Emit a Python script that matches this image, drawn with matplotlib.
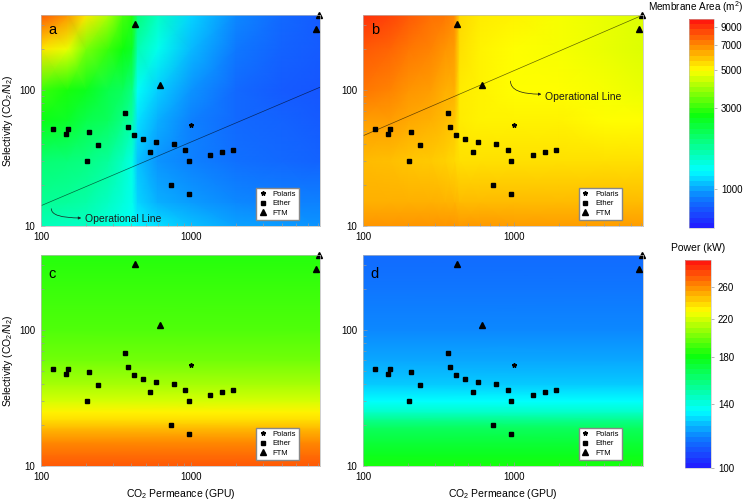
import numpy as np
import matplotlib.pyplot as plt
import matplotlib.cm as cm
from matplotlib.colors import LinearSegmentedColormap, LogNorm
from matplotlib.ticker import NullFormatter

plt.rcParams['font.family'] = ['Liberation Sans', 'DejaVu Sans']
plt.rcParams['mathtext.fontset'] = 'custom'
plt.rcParams['mathtext.rm'] = 'Liberation Sans'
plt.rcParams['mathtext.it'] = 'Liberation Sans:italic'

# membrane data points (CO2 permeance in GPU, CO2/N2 selectivity)
ether_perm = [120, 147, 151, 209, 239, 201, 365, 380, 415, 476, 581, 535,
              762, 912, 960, 728, 960, 1339, 1601, 1896]
ether_sel = [52, 47.5, 52, 49, 39.4, 30.2, 67.8, 53.5, 46.4, 43.4, 41.2, 34.8,
             40.3, 36.2, 30.2, 20.0, 17.1, 33.3, 35.2, 36.2]
polaris_perm = [1000]
polaris_sel = [55]
ftm_perm = [423, 618, 6740, 7060]
ftm_sel = [305, 108, 282, 355]

# operational lines in panels a and b
opline_perm = [100, 7200]
opline_a_sel = [14.1, 104.6]
opline_b_sel = [46, 355]

# membrane area maps (m2), rows follow grid_sel, columns follow grid_perm
grid_perm = [100, 150, 200, 280, 350, 405, 440, 600, 1000, 2000, 4000, 7200]
grid_sel = [10, 15, 30, 60, 100, 200, 355]
area_a = [
    [1590, 1540, 1540, 1420, 1340, 1300, 1230, 1160, 1070, 980, 950, 930],
    [1780, 1730, 1680, 1540, 1420, 1340, 1130, 1010, 950, 900, 880, 880],
    [1990, 1940, 1880, 1730, 1540, 1380, 1070, 930, 880, 830, 800, 780],
    [2640, 2500, 2230, 2110, 1880, 1680, 1160, 1010, 880, 800, 780, 760],
    [3040, 2800, 2570, 2230, 2110, 1880, 1300, 1100, 930, 800, 760, 740],
    [5500, 4800, 3600, 3040, 2720, 2500, 1630, 1340, 1040, 850, 780, 760],
    [8200, 6900, 5400, 4100, 3200, 2880, 1940, 1540, 1130, 900, 800, 760],
]
area_b = [
    [6900, 6900, 6900, 6900, 6900, 6900, 6830, 6830, 6730, 6730, 6730, 6730],
    [6360, 6360, 6360, 6360, 6300, 6300, 6180, 6180, 6180, 6180, 6180, 6180],
    [6180, 6100, 6000, 5900, 5800, 5680, 5520, 5520, 5520, 5520, 5520, 5520],
    [6730, 6730, 6540, 6360, 6180, 6010, 5360, 5210, 5210, 5210, 5070, 5070],
    [7530, 7320, 6920, 6730, 6360, 6360, 5360, 5210, 5070, 5070, 4930, 4790],
    [8200, 7970, 7530, 7320, 6920, 6730, 5520, 5210, 5070, 4930, 4790, 4660],
    [9340, 8820, 8200, 7750, 7530, 7120, 5680, 5360, 5210, 4930, 4790, 4660],
]

# power maps (kW), only change with selectivity
power_sel = [10, 12, 15, 19, 22, 25, 30, 40, 60, 100, 200, 355]
power_c = [278, 272, 263, 249, 238, 233, 221, 211, 200, 193, 189, 185]
power_d = [183, 177, 171, 164, 154, 144, 135, 127, 122, 118, 115, 113]

area_ticks = [1000, 3000, 5000, 7000, 9000]
power_ticks = [100, 140, 180, 220, 260]

rainbow = LinearSegmentedColormap.from_list('origin_rainbow', [
    (0.0, (0.13, 0.13, 1.0)), (0.14, (0.05, 0.5, 1.0)), (0.27, (0.0, 1.0, 1.0)),
    (0.54, (0.05, 1.0, 0.05)), (0.76, (1.0, 1.0, 0.0)), (0.88, (1.0, 0.55, 0.0)),
    (1.0, (1.0, 0.1, 0.05))])
area_norm = LogNorm(590, 10000)
power_norm = LogNorm(100, 300)

fig = plt.figure(figsize=(7.5, 5.01), dpi=100)
ax_a = fig.add_axes([0.0547, 0.5489, 0.372, 0.4212])
ax_b = fig.add_axes([0.484, 0.5489, 0.3733, 0.4212])
ax_c = fig.add_axes([0.0547, 0.0699, 0.372, 0.4212])
ax_d = fig.add_axes([0.484, 0.0699, 0.3733, 0.4212])

X, Y = np.meshgrid(grid_perm, grid_sel)
ax_a.pcolormesh(X, Y, np.array(area_a), shading='gouraud', cmap=rainbow, norm=area_norm)
ax_b.pcolormesh(X, Y, np.array(area_b), shading='gouraud', cmap=rainbow, norm=area_norm)
Xp, Yp = np.meshgrid([100, 7200], power_sel)
ax_c.pcolormesh(Xp, Yp, np.column_stack([power_c, power_c]), shading='gouraud',
                cmap=rainbow, norm=power_norm)
ax_d.pcolormesh(Xp, Yp, np.column_stack([power_d, power_d]), shading='gouraud',
                cmap=rainbow, norm=power_norm)

for ax, letter in zip([ax_a, ax_b, ax_c, ax_d], ['a', 'b', 'c', 'd']):
    ax.plot(polaris_perm, polaris_sel, '*', color='k', ms=3.3, ls='none', label='Polaris')
    ax.plot(ether_perm, ether_sel, 's', color='k', ms=3.5, ls='none', label='Ether')
    ax.plot(ftm_perm, ftm_sel, '^', color='k', ms=4.5, ls='none', label='FTM', clip_on=False)
    ax.set_xscale('log')
    ax.set_yscale('log')
    ax.set_xlim(100, 7200)
    ax.set_ylim(10, 355)
    ax.set_xticks([100, 1000])
    ax.set_xticklabels(['100', '1000'])
    ax.set_yticks([10, 100])
    ax.set_yticklabels(['10', '100'])
    ax.xaxis.set_minor_formatter(NullFormatter())
    ax.yaxis.set_minor_formatter(NullFormatter())
    ax.tick_params(which='both', direction='in', color='#999999', labelsize=7, pad=4)
    ax.tick_params(which='major', length=3, width=0.5)
    ax.tick_params(which='minor', length=2, width=0.5)
    for sp in ax.spines.values():
        sp.set_color('#bbbbbb')
        sp.set_linewidth(0.5)
    ax.text(0.028, 0.91 if letter in 'ab' else 0.89, letter, transform=ax.transAxes,
            fontsize=10.5)
    ax.legend(loc='lower right', bbox_to_anchor=(0.925, 0.03), fontsize=5.5,
              fancybox=False, edgecolor='#888888', framealpha=1, borderpad=0.4,
              handlelength=1.0, handletextpad=0.8, labelspacing=0.25, borderaxespad=0)

# operational lines
ax_a.plot(opline_perm, opline_a_sel, color='k', lw=0.5, alpha=0.6)
ax_b.plot(opline_perm, opline_b_sel, color='k', lw=0.5, alpha=0.6)
ax_a.annotate('', xy=(185, 11.45), xytext=(117, 13.4),
              arrowprops=dict(arrowstyle='-|>', color='#1a1a1a', lw=0.5, mutation_scale=4,
                              connectionstyle='angle3,angleA=90,angleB=0', shrinkA=0, shrinkB=0))
ax_a.text(196, 11.3, 'Operational Line', fontsize=7.5, va='center', color='#1a1a1a')
ax_b.annotate('', xy=(1524, 93), xytext=(951, 116),
              arrowprops=dict(arrowstyle='-|>', color='#1a1a1a', lw=0.5, mutation_scale=4,
                              connectionstyle='angle3,angleA=90,angleB=0', shrinkA=0, shrinkB=0))
ax_b.text(1622, 89.3, 'Operational Line', fontsize=7.5, va='center', color='#1a1a1a')

ax_a.set_ylabel('Selectivity (CO$_2$/N$_2$)', fontsize=7.5, labelpad=3)
ax_c.set_ylabel('Selectivity (CO$_2$/N$_2$)', fontsize=7.5, labelpad=3)
ax_c.set_xlabel('CO$_2$ Permeance (GPU)', fontsize=7.5, labelpad=4)
ax_d.set_xlabel('CO$_2$ Permeance (GPU)', fontsize=7.5, labelpad=4)

# colorbars
cax1 = fig.add_axes([0.9187, 0.545, 0.0333, 0.417])
cb1 = fig.colorbar(cm.ScalarMappable(norm=area_norm, cmap=rainbow.resampled(40)), cax=cax1)
cb1.set_ticks(area_ticks, labels=[str(t) for t in area_ticks])
cax2 = fig.add_axes([0.9133, 0.0659, 0.0347, 0.415])
cb2 = fig.colorbar(cm.ScalarMappable(norm=power_norm, cmap=rainbow.resampled(40)), cax=cax2)
cb2.set_ticks(power_ticks, labels=[str(t) for t in power_ticks])
for cb in [cb1, cb2]:
    cb.ax.minorticks_off()
    cb.outline.set_linewidth(0.4)
    cb.outline.set_edgecolor('#bbbbbb')
    cb.ax.tick_params(labelsize=7, length=2, width=0.5, color='#999999', pad=3)

fig.text(0.927, 0.986, 'Membrane Area (m$^2$)', ha='center', va='center', fontsize=7.2)
fig.text(0.931, 0.505, 'Power (kW)', ha='center', va='center', fontsize=7.5)

plt.savefig('out.png', dpi=100)
